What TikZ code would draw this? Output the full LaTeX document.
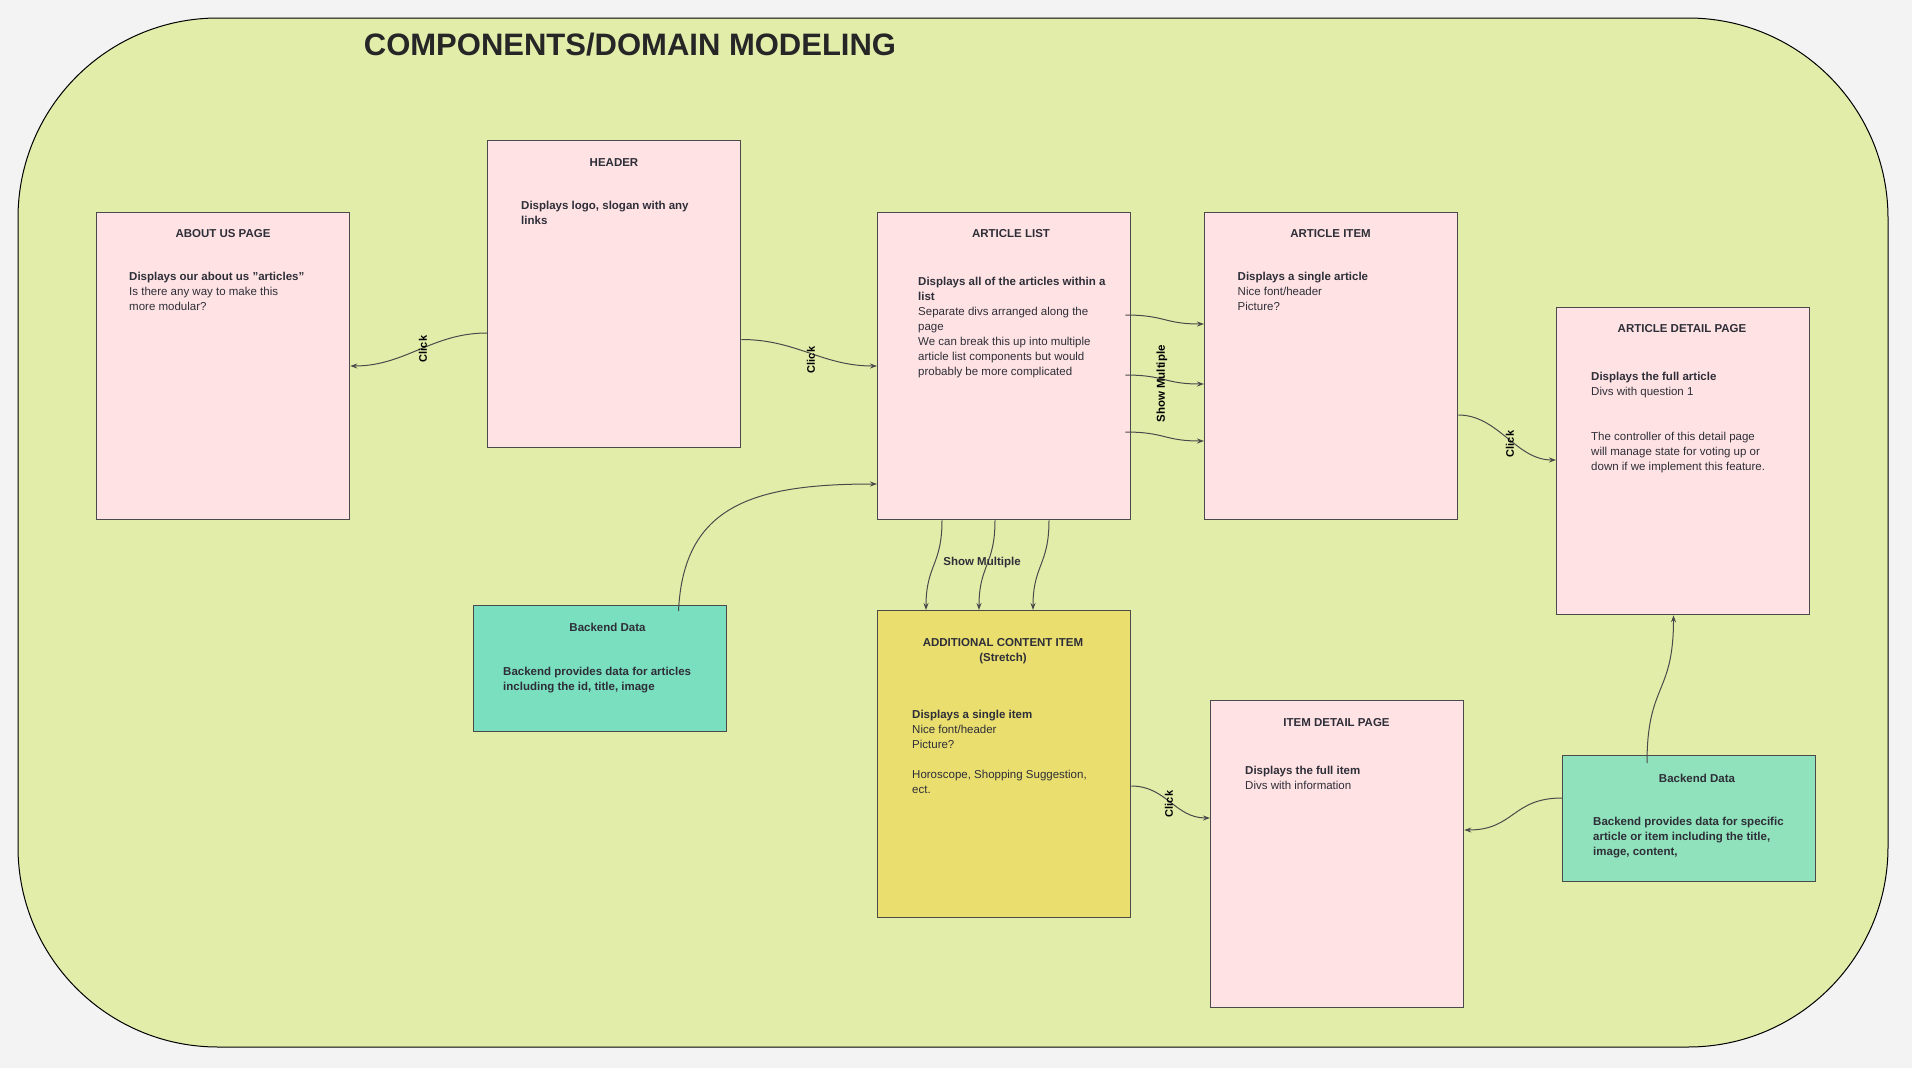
\documentclass[tikz,border=0pt]{standalone}
\usepackage{fontspec}
\setmainfont{Liberation Sans}
\usetikzlibrary{arrows.meta,positioning,calc}
\definecolor{canvasbg}{HTML}{F3F3F3}
\definecolor{limebg}{HTML}{E3EDAA}
\definecolor{pagepink}{HTML}{FFE3E4}
\definecolor{datateal}{HTML}{7ADFBF}
\definecolor{datamint}{HTML}{8FE2BB}
\definecolor{stretchyel}{HTML}{E9DE6E}
\definecolor{edgegray}{HTML}{4A4A4A}
\definecolor{inkgray}{HTML}{2E2E38}
\begin{document}
\begin{tikzpicture}[x=1pt,y=-1pt,
  comp/.style={draw=edgegray,line width=1.3pt,fill=pagepink,minimum width=253pt,minimum height=307pt,anchor=north west,inner sep=0pt},
  databox/.style={comp,fill=datateal,minimum height=126pt},
  titletxt/.style={font=\bfseries\fontsize{11.5}{15}\selectfont,text=inkgray,inner sep=0pt,align=center},
  bodytxt/.style={font=\fontsize{11.5}{15}\selectfont,text=inkgray,align=left,anchor=north west,inner sep=0pt},
  clicklbl/.style={font=\bfseries\fontsize{11}{13}\selectfont,rotate=90,inner sep=0pt},
  link/.style={draw=edgegray,line width=1pt,-{Stealth[length=7pt,width=5pt]}}]
% canvas and the big rounded frame
\useasboundingbox[fill=canvasbg] (0,0) rectangle (1912,1068);
\draw[fill=limebg,line width=1pt,rounded corners=200pt] (18,18) rectangle (1888,1047);
\node[font=\bfseries\fontsize{31}{36}\selectfont,text=black!85,inner sep=0pt] (ttl) at (630,45) {COMPONENTS/DOMAIN MODELING};
% page components
\node[comp] (about) at (96,212) {};
\node[comp] (hdr) at (487,140) {};
\node[comp] (alist) at (877,212) {};
\node[comp] (aitem) at (1204,212) {};
\node[comp] (adetail) at (1556,307) {};
\node[comp,fill=stretchyel] (addl) at (877,610) {};
\node[comp] (idetail) at (1210,700) {};
\node[databox] (bdata) at (473,605) {};
\node[databox,fill=datamint] (bdatab) at (1562,755) {};
% titles
\node[titletxt] (about-t) at (223,233.5) {ABOUT US PAGE};
\node[titletxt] (hdr-t) at (614,162.5) {HEADER};
\node[titletxt] (alist-t) at (1011,234) {ARTICLE LIST};
\node[titletxt] (aitem-t) at (1330.5,233.5) {ARTICLE ITEM};
\node[titletxt] (adetail-t) at (1682,329) {ARTICLE DETAIL PAGE};
\node[titletxt] (addl-t) at (1003,651) {ADDITIONAL CONTENT ITEM\\(Stretch)};
\node[titletxt] (idetail-t) at (1336.5,723) {ITEM DETAIL PAGE};
\node[titletxt] (bdata-t) at (607.5,627) {Backend Data};
\node[titletxt] (bdatab-t) at (1697,778) {Backend Data};
% body texts
\node[bodytxt] (about-b) at (129,271.6) {\textbf{Displays our about us "articles"}\\Is there any way to make this\\more modular?};
\node[bodytxt] (hdr-b) at (521,200.6) {\textbf{Displays logo, slogan with any}\\\textbf{links}};
\node[bodytxt] (alist-b) at (918,276.6) {\textbf{Displays all of the articles within a}\\\textbf{list}\\Separate divs arranged along the\\page\\We can break this up into multiple\\article list components but would\\probably be more complicated};
\node[bodytxt] (aitem-b) at (1237.5,271.6) {\textbf{Displays a single article}\\Nice font/header\\Picture?};
\node[bodytxt] (adetail-b) at (1591,371.6) {\textbf{Displays the full article}\\Divs with question 1\\[30pt]The controller of this detail page\\will manage state for voting up or\\down if we implement this feature.};
\node[bodytxt] (addl-b) at (912,709.6) {\textbf{Displays a single item}\\Nice font/header\\Picture?\\[15pt]Horoscope, Shopping Suggestion,\\ect.};
\node[bodytxt] (idetail-b) at (1245,765.6) {\textbf{Displays the full item}\\Divs with information};
\node[bodytxt,font=\bfseries\fontsize{11.5}{15}\selectfont] (bdata-b) at (503,666.6) {Backend provides data for articles\\including the id, title, image};
\node[bodytxt,font=\bfseries\fontsize{11.5}{15}\selectfont] (bdatab-b) at (1593,816.6) {Backend provides data for specific\\article or item including the title,\\image, content,};
% click links
\draw[link] ($(hdr.north west)+(0,193)$) .. controls +(-55,0) and +(55,0) .. ($(about.north east)+(0,154)$);
\node[clicklbl] (clk1) at (423,349) {Click};
\draw[link] ($(hdr.north east)+(0,199.5)$) .. controls +(55,0) and +(-55,0) .. ($(alist.north west)+(0,154)$);
\node[clicklbl] (clk2) at (811,360) {Click};
\draw[link] ($(aitem.north east)+(0,203)$) .. controls +(40,0) and +(-40,0) .. ($(adetail.north west)+(0,153)$);
\node[clicklbl] (clk3) at (1510,444) {Click};
\draw[link] ($(addl.north east)+(0,176)$) .. controls +(35,0) and +(-35,0) .. ($(idetail.north west)+(0,118)$);
\node[clicklbl] (clk4) at (1169,804) {Click};
% show multiple
\foreach \a/\b in {103/112,163/172,220/229}{
  \draw[link] ($(alist.north east)+(-6,\a)$) .. controls +(40,0) and +(-40,0) .. ($(aitem.north west)+(0,\b)$);}
\node[font=\bfseries\fontsize{11.5}{13}\selectfont,rotate=90,inner sep=0pt] (shw1) at (1162,384) {Show Multiple};
\foreach \a/\b in {65/49,118/102,172/156}{
  \draw[link] ($(alist.south west)+(\a,0)$) .. controls +(0,45) and +(0,-45) .. ($(addl.north west)+(\b,0)$);}
\node[font=\bfseries\fontsize{11.5}{13}\selectfont,text=inkgray,inner sep=0pt] (shw2) at (982,563) {Show Multiple};
% backend data feeds
\draw[link] ($(bdata.north west)+(205.5,6)$) .. controls +(5,-105) and +(-125,0) .. ($(alist.north west)+(0,272)$);
\draw[link] ($(bdatab.north west)+(0,43)$) .. controls +(-50,0) and +(50,0) .. ($(idetail.north east)+(0,130)$);
\draw[link] ($(bdatab.north west)+(85,8)$) .. controls +(0,-80) and +(0,80) .. ($(adetail.south west)+(117.5,0)$);
\end{tikzpicture}
\end{document}
